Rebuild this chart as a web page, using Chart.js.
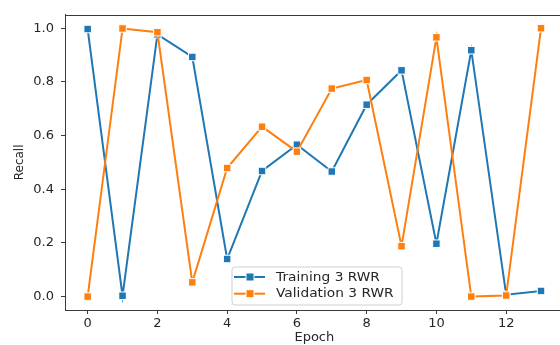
<!DOCTYPE html>
<html>
<head>
<meta charset="utf-8">
<script src="https://cdn.jsdelivr.net/npm/chart.js@4/dist/chart.umd.min.js"></script>
<style>
html,body{margin:0;padding:0;background:#fff;overflow:hidden;width:560px;height:345px;}
#wrap{position:absolute;left:0;top:0;width:570px;height:345px;}
</style>
</head>
<body>
<div id="wrap"><canvas id="c" width="570" height="345"></canvas></div>
<script>
const epochs = [0,1,2,3,4,5,6,7,8,9,10,11,12,13];
const trainingRecall = [0.997,0.003,0.977,0.893,0.140,0.468,0.566,0.466,0.715,0.843,0.197,0.918,0.007,0.021];
const validationRecall = [0.000,0.999,0.985,0.053,0.479,0.633,0.540,0.775,0.807,0.188,0.966,0.000,0.004,1.000];
const xTicks = [0,2,4,6,8,10,12];
const yTicks = [0.0,0.2,0.4,0.6,0.8,1.0];
const seriesLabels = ['Training 3 RWR','Validation 3 RWR'];
const seriesColors = ['#1f77b4','#ff7f0e'];

const FONT = 'DejaVu Sans';
const axisColor = '#3a3a3a';

const framePlugin = {
  id:'frame',
  afterDraw(chart){
    const {ctx, chartArea:a} = chart;
    ctx.save();
    ctx.strokeStyle = axisColor;
    ctx.lineWidth = 1;
    ctx.strokeRect(Math.round(a.left)+0.5, Math.round(a.top)+0.5, Math.round(a.right-a.left), Math.round(a.bottom-a.top));
    ctx.restore();
  }
};

const legendPlugin = {
  id:'mplLegend',
  afterDraw(chart){
    const ctx = chart.ctx;
    const bx=232, by=267, bw=170, bh=38, r=3;
    ctx.save();
    ctx.beginPath();
    ctx.moveTo(bx+r,by);ctx.lineTo(bx+bw-r,by);ctx.quadraticCurveTo(bx+bw,by,bx+bw,by+r);
    ctx.lineTo(bx+bw,by+bh-r);ctx.quadraticCurveTo(bx+bw,by+bh,bx+bw-r,by+bh);
    ctx.lineTo(bx+r,by+bh);ctx.quadraticCurveTo(bx,by+bh,bx,by+bh-r);
    ctx.lineTo(bx,by+r);ctx.quadraticCurveTo(bx,by,bx+r,by);ctx.closePath();
    ctx.fillStyle='rgba(255,255,255,0.85)';ctx.fill();
    ctx.strokeStyle='#d0d0d0';ctx.lineWidth=1;ctx.stroke();
    chart.data.datasets.forEach((ds,i)=>{
      const y = by + 10 + i*16.7;
      ctx.strokeStyle = ds.borderColor; ctx.lineWidth = 2;
      ctx.beginPath(); ctx.moveTo(234,y); ctx.lineTo(265,y); ctx.stroke();
      ctx.fillStyle = ds.borderColor; ctx.strokeStyle='#fff'; ctx.lineWidth=1;
      ctx.fillRect(246,y-4,8,8); ctx.strokeRect(246,y-4,8,8);
      ctx.save();
      ctx.translate(276, y+0.5);
      ctx.scale(1.1,1);
      ctx.fillStyle='#262626'; ctx.font = '12.5px "'+FONT+'"'; ctx.textBaseline='middle'; ctx.textAlign='left';
      ctx.fillText(ds.label, 0, 0);
      ctx.restore();
    });
    ctx.restore();
  }
};

function makeDataset(label, values, color, order){
  return {
    label, order,
    data: epochs.map((e,i)=>({x:e,y:values[i]})),
    borderColor: color, backgroundColor: color,
    borderWidth: 2,
    pointStyle:'rect', pointRadius:5.3, pointBorderColor:'#fff', pointBorderWidth:1,
    pointBackgroundColor: color, tension:0, fill:false
  };
}

new Chart(document.getElementById('c'), {
  type:'line',
  data:{ datasets:[
    makeDataset(seriesLabels[0], trainingRecall, seriesColors[0], 1),
    makeDataset(seriesLabels[1], validationRecall, seriesColors[1], 0)
  ]},
  options:{
    responsive:false, animation:false, devicePixelRatio:1,
    layout:{padding:{left:0,right:4,top:13,bottom:0}},
    plugins:{legend:{display:false}, tooltip:{enabled:false}, title:{display:false}},
    scales:{
      x:{
        type:'linear', min:-0.65, max:13.65,
        afterBuildTicks(s){ s.ticks = xTicks.map(v=>({value:v})); },
        afterFit(s){ s.height = 35; },
        grid:{display:true, drawOnChartArea:false, drawTicks:true, tickLength:4, color:axisColor, tickColor:axisColor},
        border:{display:true, color:axisColor, width:1},
        ticks:{color:'#262626', font:{family:FONT,size:13}, padding:2, maxRotation:0, autoSkip:false, callback:v=>String(v)},
        title:{display:true, text:'Epoch', color:'#262626', font:{family:FONT,size:13,lineHeight:1.1}, padding:{top:0,bottom:0}}
      },
      y:{
        type:'linear', min:-0.05, max:1.05,
        afterBuildTicks(s){ s.ticks = yTicks.map(v=>({value:v})); },
        afterFit(s){ s.width = 65; },
        grid:{display:true, drawOnChartArea:false, drawTicks:true, tickLength:4, color:axisColor, tickColor:axisColor},
        border:{display:true, color:axisColor, width:1},
        ticks:{color:'#262626', font:{family:FONT,size:13}, padding:7, autoSkip:false, callback:v=>Number(v).toFixed(1)},
        title:{display:true, text:'Recall', color:'#262626', font:{family:FONT,size:12,lineHeight:1.1}, padding:{top:13,bottom:0}}
      }
    }
  },
  plugins:[framePlugin, legendPlugin]
});
</script>
</body>
</html>
